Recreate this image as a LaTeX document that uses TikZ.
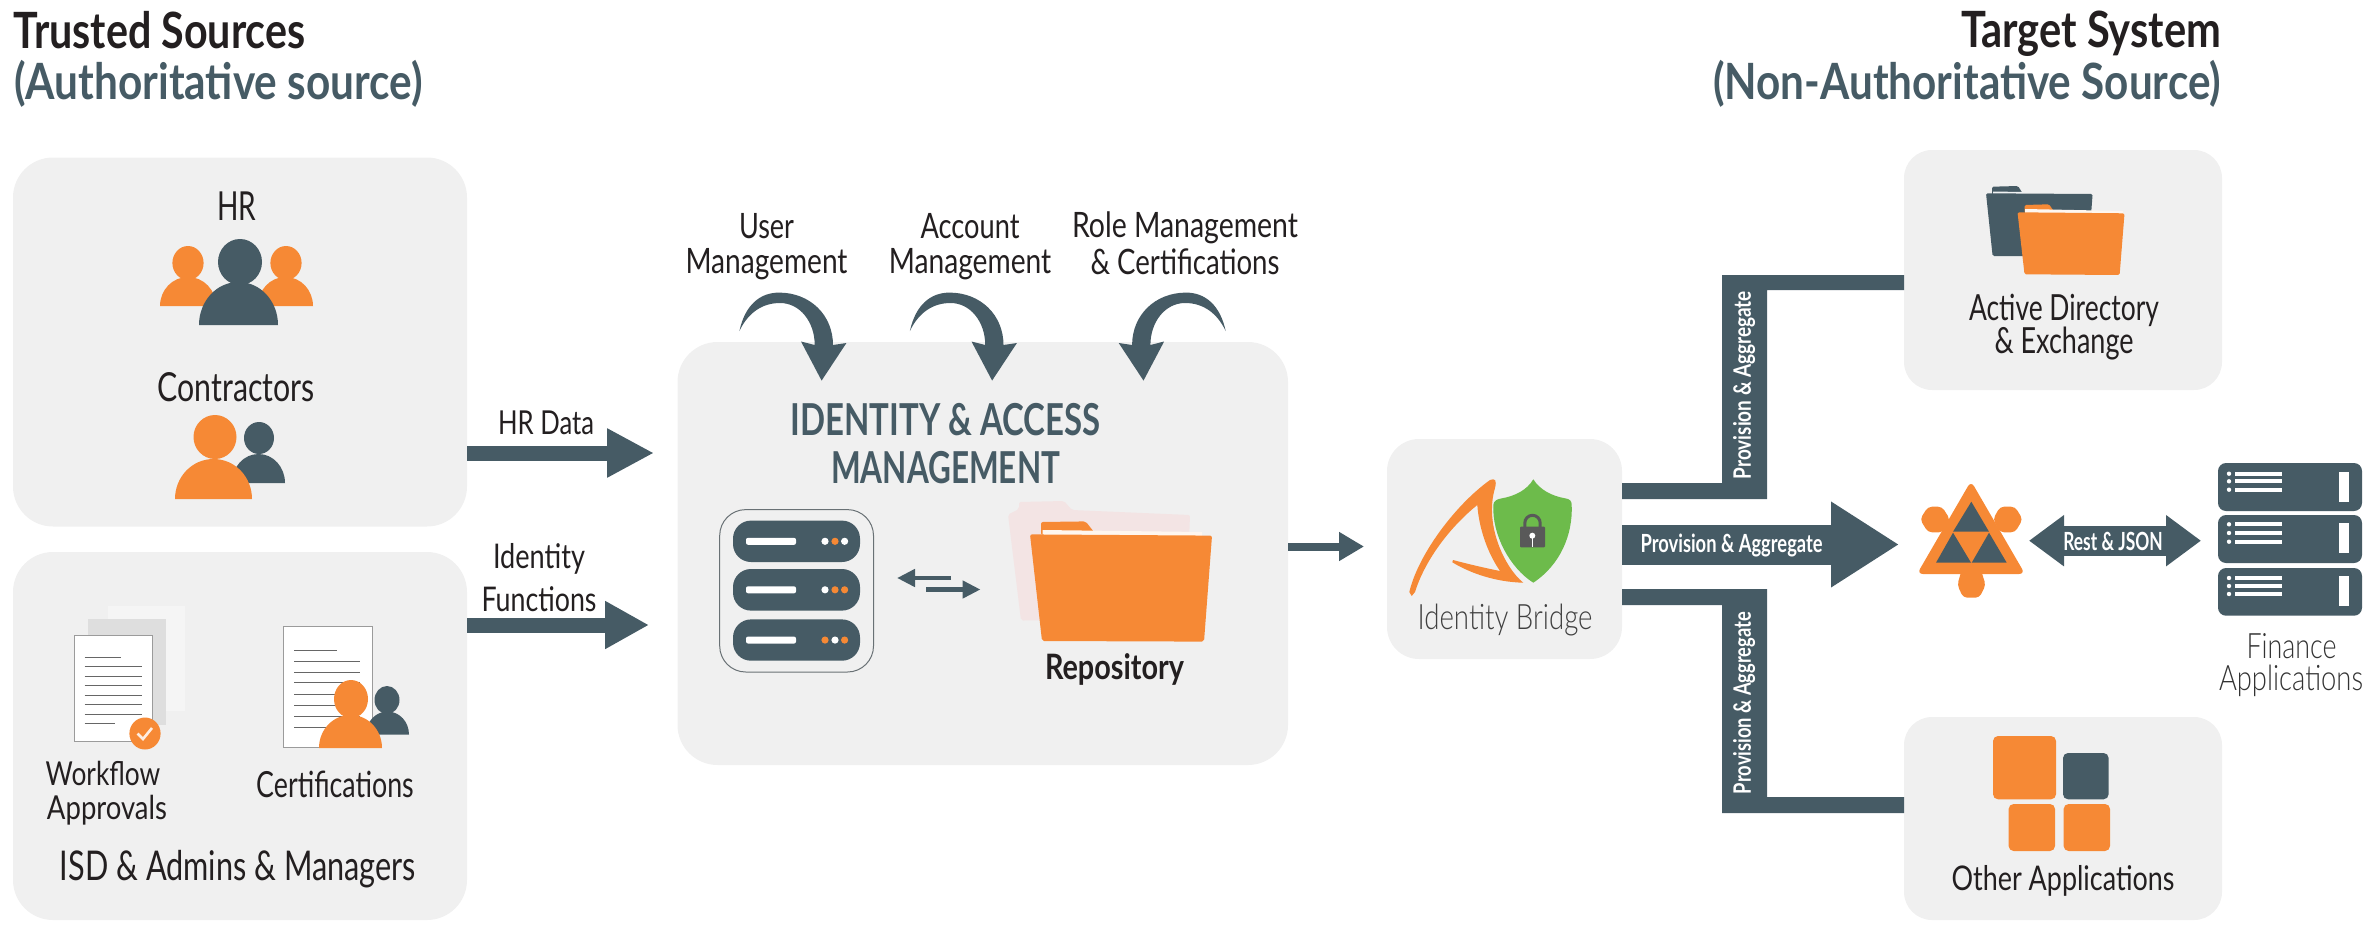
\documentclass[tikz,border=0pt]{standalone}
\usepackage{graphicx}
\usepackage{fontspec}
\setmainfont{Lato}
\newfontfamily\lightf{Lato Light}
\newfontfamily\medf{Lato Medium}
\newfontfamily\semif{Lato Semibold}
\usetikzlibrary{arrows.meta}
\definecolor{dk}{HTML}{465B65}
\definecolor{og}{HTML}{F68935}
\definecolor{pn}{HTML}{F0F0F0}
\definecolor{tx}{HTML}{231F20}
\definecolor{grn}{HTML}{6DBB4B}
\definecolor{pale}{HTML}{F3E4E4}
\tikzset{
  panel/.style={rectangle,fill=pn,inner sep=0pt,outer sep=0pt},
  blockarrow/.style n args={3}{draw=dk,line width=#1,-{Triangle[length=#3,width=#2]}},
  doclines/.style={draw=gray!80!black,line width=1pt},
}
% \lbl[opts]{name}{x}{y}{width}{size}{colour}{text}
\newcommand{\lbl}[8][]{\node[inner sep=0pt,outer sep=0pt,text=#7,#1] (#2) at (#3,#4) {\fontsize{#6}{#6}\selectfont\resizebox{#5pt}{\height}{#8}};}
% \person{colour}{headx}{heady}{rx}{ry}{xl}{xr}{top}{bottom}
\newcommand{\person}[9]{%
  \pgfmathsetmacro\pxm{(#6+#7)/2}%
  \pgfmathsetmacro\pa{#6+(#7-#6)*0.22}%
  \pgfmathsetmacro\pb{#7-(#7-#6)*0.22}%
  \pgfmathsetmacro\pc{#9-(#9-#8)*0.55}%
  \fill[#1] (#2,#3) ellipse [x radius=#4,y radius=#5];
  \fill[#1] (#6,#9) .. controls (#6,\pc) and (\pa,#8) .. (\pxm,#8) .. controls (\pb,#8) and (#7,\pc) .. (#7,#9) -- cycle;
}
\newcommand{\curvedhead}{%
  \fill[dk] (739.4,331) .. controls (745,305) and (760,292.6) .. (779,292.6)
    .. controls (810,292.6) and (833,315) .. (833,345) -- (846.4,343) -- (821.6,380.6) -- (801,341.5) -- (814.7,345)
    .. controls (814.7,322) and (800,303) .. (780,303) .. controls (762,303) and (748,313) .. (739.4,331) -- cycle;
}
% \srvunit{y1}{y2}{dot1}{dot2}{dot3}
\newcommand{\srvunit}[5]{%
  \pgfmathsetmacro\sm{(#1+#2)/2}%
  \fill[dk,rounded corners=18pt] (733,#1) rectangle (860,#2);
  \fill[white,rounded corners=2pt] (746,\sm-3.5) rectangle (796,\sm+3.5);
  \fill[#3] (825,\sm) circle (3.6);
  \fill[#4] (835,\sm) circle (3.6);
  \fill[#5] (844.6,\sm) circle (3.6);
}
% \rack{y1}{y2}{l1}{l2}{l3}{b1}{b2}
\newcommand{\rack}[7]{%
  \fill[dk,rounded corners=8pt] (2218,#1) rectangle (2362,#2);
  \foreach \ly in {#3,#4,#5}{
    \fill[white] (2229,\ly) circle (2.2);
    \fill[white] (2234.5,\ly-2) rectangle (2282,\ly+2);
  }
  \fill[white] (2339,#6) rectangle (2349,#7);
}
\begin{document}
\begin{tikzpicture}[x=1pt,y=-1pt]
\useasboundingbox (0,0) rectangle (2363,924);
% panels
\node[panel,rounded corners=40pt,minimum width=454pt,minimum height=369pt] (hrbox) at (240,342) {};
\node[panel,rounded corners=40pt,minimum width=454pt,minimum height=368pt] (isdbox) at (240,736) {};
\node[panel,rounded corners=40pt,minimum width=610.5pt,minimum height=423pt] (iam) at (982.75,553.5) {};
\node[panel,rounded corners=32pt,minimum width=235pt,minimum height=220pt] (bridge) at (1504.5,549) {};
\node[panel,rounded corners=28pt,minimum width=318pt,minimum height=240pt] (adbox) at (2063,270) {};
\node[panel,rounded corners=28pt,minimum width=318pt,minimum height=203pt] (otherbox) at (2063,818.5) {};
% titles
\lbl{t1}{159.5}{30}{292}{50}{tx}{\bfseries Trusted Sources}
\lbl{t2}{218.5}{84}{409}{50}{dk}{\bfseries (Authoritative source)}
\lbl[anchor=east]{t3}{2221}{34}{260}{50}{tx}{\bfseries Target System}
\lbl[anchor=east]{t4}{2221}{84}{508}{50}{dk}{\bfseries (Non-Authoritative Source)}
% HR icons
\lbl{hrl}{237}{206}{39}{40}{tx}{HR}
\person{og}{188}{263}{15.6}{17}{160}{216}{277}{306}
\person{og}{286}{263}{15.6}{17}{258}{313}{277}{306}
\person{dk}{240}{262}{22}{23}{199}{278}{282}{325}
\lbl{conl}{236}{387}{157}{40}{tx}{Contractors}
\person{dk}{259}{438}{15}{16}{232}{285}{454}{483}
\person{og}{215}{437}{21.5}{22}{175}{252}{459}{499}
% block arrows left
\coordinate (a1e) at (654,453);
\draw[blockarrow={15pt}{46pt}{47pt}] (hrbox.east|-a1e) -- (a1e);
\lbl{hrd}{546}{423}{96}{33}{tx}{HR Data}
\coordinate (a2e) at (649,625);
\draw[blockarrow={15pt}{45pt}{44pt}] (isdbox.east|-a2e) -- (a2e);
\lbl{idf1}{539}{559}{92}{34}{tx}{Identity}
\lbl{idf2}{539}{599}{115}{34}{tx}{Functions}
% workflow docs
\fill[black!4] (107.5,606) rectangle (185,711);
\fill[black!13] (88,619) rectangle (166,725);
\draw[white!35!gray!90!black,fill=white,line width=1pt] (74.6,635.5) rectangle (152.6,741.5);
\foreach \ly/\lx in {657/121,666/142,676/142,685.5/142,695/142,704.5/142,714/142,723.5/115}
  \draw[doclines] (84.6,\ly) -- (\lx,\ly);
\fill[og] (145,733.5) ellipse [x radius=15.6,y radius=16];
\draw[white!85!og,line width=2.6pt] (137.5,733.5) -- (143,739) -- (152,728);
\lbl{wf1}{103}{773}{114.5}{33}{tx}{Workflow}
\lbl{wf2}{107}{810}{120}{33}{tx}{Approvals}
% certification doc
\draw[white!35!gray!90!black,fill=white,line width=1pt] (283,626) rectangle (372,747.5);
\foreach \ly/\lx in {650.5/336.5,661/360,672/360,682.5/360,694/360,705/360,716/360,727/360}
  \draw[doclines] (294,\ly) -- (\lx,\ly);
\person{dk}{387}{700}{12.5}{14}{366}{409}{711.5}{734.5}
\person{og}{351}{699}{17}{19}{319}{382}{715}{748}
\lbl{cert}{335}{784}{157.5}{36}{tx}{Certifications}
\lbl{isd}{238}{869}{356}{41}{tx}{ISD \& Admins \& Managers}
% curved arrows
\curvedhead
\begin{scope}[xshift=170.5pt]\curvedhead\end{scope}
\begin{scope}[xshift=1965.1pt,xscale=-1]\curvedhead\end{scope}
\lbl{um1}{766.5}{226}{55}{35}{tx}{User}
\lbl{um2}{766.5}{264}{162}{35}{tx}{Management}
\lbl{am1}{970}{226}{99}{35}{tx}{Account}
\lbl{am2}{970}{264}{162.5}{35}{tx}{Management}
\lbl{rm1}{1185}{228}{226}{35}{tx}{Role Management}
\lbl{rm2}{1185}{262}{189}{35}{tx}{\& Certifications}
\lbl{iamt1}{945.6}{420}{310}{44}{dk}{\bfseries IDENTITY \& ACCESS}
\lbl{iamt2}{945.6}{468}{229}{44}{dk}{\bfseries MANAGEMENT}
% servers
\draw[gray!60!dk,line width=1pt,rounded corners=26pt] (719.7,509.6) rectangle (873.5,672);
\srvunit{520.6}{562}{white}{og}{white}
\srvunit{569}{610.6}{white}{og}{og}
\srvunit{619.4}{660.7}{og}{white}{og}
% small arrows
\coordinate (sa1) at (951,578); \coordinate (sa2) at (897,578);
\draw[blockarrow={4.5pt}{17pt}{18pt}] (sa1) -- (sa2);
\coordinate (sb1) at (926,589.5); \coordinate (sb2) at (980.5,589.5);
\draw[blockarrow={4.5pt}{17pt}{18pt}] (sb1) -- (sb2);
% repository folder
\fill[pale,rounded corners=2pt] (1019,509) -- (1019,502) -- (1064,501) -- (1072,510) -- (1190,515) -- (1186,620) -- (1021,620.5) -- (1008,514.5) -- cycle;
\fill[og,rounded corners=2pt] (1041,535) -- (1041,522) -- (1085.6,521.4) -- (1094,532) -- cycle;
\fill[white!92!og] (1042.5,530) -- (1202,532) -- (1202,537) -- (1042.5,537) -- cycle;
\fill[og,rounded corners=2pt] (1030,534.4) -- (1212,535.6) -- (1204,641.6) -- (1042,641) -- cycle;
\lbl{repo}{1114.5}{669}{139}{35}{tx}{\bfseries Repository}
% IAM to bridge
\coordinate (a3e) at (1364,546.5);
\draw[blockarrow={8pt}{27.5pt}{25pt}] (iam.east|-a3e) -- (a3e);
% bridge logo
\fill[og] (1490,480) .. controls (1455,505) and (1418,555) .. (1409.3,592) -- (1411.7,596) -- (1415,592)
  .. controls (1425,560) and (1450,527) .. (1477.3,505)
  .. controls (1479,528) and (1487,552) .. (1500,571)
  .. controls (1485,568) and (1468,564) .. (1453,560) -- (1452.3,562.3)
  .. controls (1470,573) and (1495,582) .. (1523.3,582.7)
  .. controls (1505,568) and (1484,525) .. (1495,488)
  .. controls (1497,480) and (1495,478) .. (1490,480) -- cycle;
\fill[grn] (1533.3,479.3) .. controls (1540,490) and (1552,496) .. (1565,498.3)
  .. controls (1570,499) and (1571.7,501) .. (1571.7,505)
  .. controls (1573,535) and (1560,565) .. (1533.3,582.7)
  .. controls (1510,568) and (1492,535) .. (1493.3,505)
  .. controls (1493.5,501) and (1497,499) .. (1502,498.3)
  .. controls (1515,496) and (1527,490) .. (1533.3,479.3) -- cycle;
\draw[black!65,line width=3pt] (1524.8,530) -- (1524.8,523) arc[start angle=180,end angle=360,x radius=7.7,y radius=7.7] -- (1540.2,530);
\fill[black!65,rounded corners=1pt] (1520,526.7) rectangle (1545,547.3);
\fill[white] (1532.3,535.7) circle (3);
\draw[white,line width=1.6pt] (1532.3,535.7) -- (1532.3,547.3);
\lbl{brl}{1505}{620}{175}{35}{black!75}{\lightf Identity Bridge}
% branches
\fill[dk] (bridge.east|-0,483) -- (1722,483) -- (1722,275) -- (adbox.west|-0,275) -- (adbox.west|-0,290) -- (1767,290) -- (1767,499) -- (bridge.east|-0,499) -- cycle;
\fill[dk] (bridge.east|-0,589) -- (1767,589) -- (1767,797) -- (otherbox.west|-0,797) -- (otherbox.west|-0,813) -- (1722,813) -- (1722,605) -- (bridge.east|-0,605) -- cycle;
\coordinate (a4e) at (1899,544.5);
\draw[blockarrow={40pt}{81pt}{68pt}] (bridge.east|-a4e) -- (a4e);
\lbl[rotate=90]{pv1}{1744}{385}{188}{24}{white}{\bfseries Provision \& Aggregate}
\lbl[rotate=90]{pv2}{1744}{703}{182}{24}{white}{\bfseries Provision \& Aggregate}
\lbl{pv3}{1731.6}{545}{182}{25}{white}{\bfseries Provision \& Aggregate}
% AD folders
\fill[dk,rounded corners=1.5pt] (1992,195) -- (1992,186.7) -- (2018,186) -- (2023,194) -- cycle;
\fill[white!92!dk] (1993,191.5) -- (2023,192) -- (2023,195) -- (1993,195) -- cycle;
\fill[dk,rounded corners=1.5pt] (1986,193.3) -- (2092.6,194) -- (2091,215) -- (2060,256) -- (1992.6,256) -- cycle;
\fill[og,rounded corners=1.5pt] (2024.5,213) -- (2024.5,205) -- (2049,204.3) -- (2055,213) -- cycle;
\fill[white!92!og] (2025,209) -- (2123,211) -- (2123,214) -- (2025,214) -- cycle;
\fill[og,rounded corners=1.5pt] (2017.5,212.3) -- (2124.5,213.3) -- (2119.6,275) -- (2024.5,274.3) -- cycle;
\lbl{ad1}{2064}{310}{190}{36}{tx}{Active Directory}
\lbl{ad2}{2064}{344}{139}{36}{tx}{\& Exchange}
% other apps
\fill[og,rounded corners=5pt] (1993,736) rectangle (2056,799.3);
\fill[dk,rounded corners=5pt] (2063,753) rectangle (2108.6,799.3);
\fill[og,rounded corners=5pt] (2008.6,804) rectangle (2055,851);
\fill[og,rounded corners=5pt] (2063.6,804) rectangle (2110,851);
\lbl{oth}{2063}{880.5}{223}{34}{tx}{Other Applications}
% triangle logo
\fill[og,rounded corners=4pt] (1928,506.7) -- (1942,506.7) -- (1950,519.3) -- (1943,532.3) -- (1928,532.3) -- (1920,519.3) -- cycle;
\fill[og,rounded corners=4pt] (2000,506.7) -- (2015,506.7) -- (2022.7,519.3) -- (2015,532.3) -- (2000,532.3) -- (1993,519.3) -- cycle;
\fill[og,rounded corners=4pt] (1963,565) -- (1979.3,565) -- (1985.7,585) -- (1979.3,597.7) -- (1963.3,597.7) -- (1957.3,585) -- cycle;
\fill[og,rounded corners=6pt] (1971,481) -- (2025,574) -- (1917,574) -- cycle;
\fill[dk] (1971.3,501.7) -- (1989,531.7) -- (1953,531.7) -- cycle;
\fill[dk] (1953,532.7) -- (1971,562.7) -- (1936,562.7) -- cycle;
\fill[dk] (1989,532.7) -- (2006.7,562.7) -- (1971.7,562.7) -- cycle;
% rest arrow
\coordinate (r1) at (2029,540.7); \coordinate (r2) at (2201,540.7);
\draw[draw=dk,line width=30pt,{Triangle[length=35pt,width=49pt]}-{Triangle[length=35pt,width=49pt]}] (r1) -- (r2);
\lbl{rest}{2113}{541}{99.5}{25}{white}{\bfseries Rest \& JSON}
% finance racks
\rack{463}{511}{473.7}{481.3}{489.7}{471.7}{501.7}
\rack{515}{563}{524.3}{533}{541.7}{523}{553}
\rack{568}{615.7}{578}{586}{594}{576}{606}
\lbl{fin1}{2291.5}{645.7}{90}{35}{black!80}{\lightf Finance}
\lbl{fin2}{2291}{681}{144}{35}{black!80}{\lightf Applications}
\end{tikzpicture}
\end{document}
